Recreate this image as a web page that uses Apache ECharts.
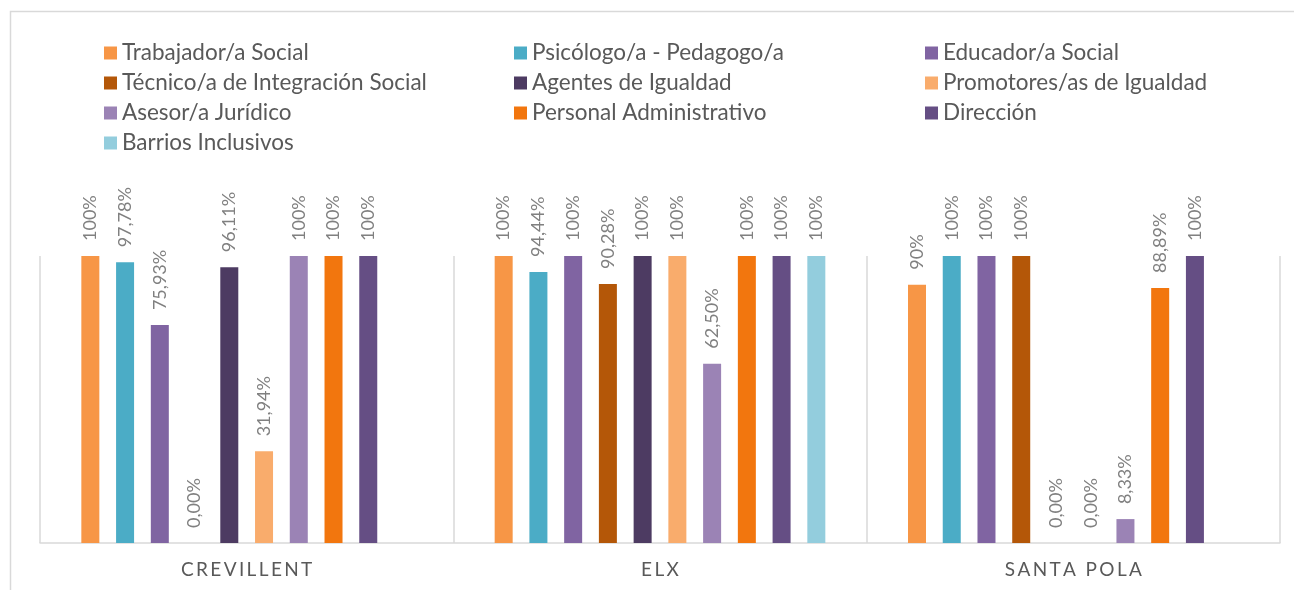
<!DOCTYPE html>
<html>
<head>
<meta charset="utf-8">
<script src="https://cdn.jsdelivr.net/npm/echarts@6/dist/echarts.min.js"></script>
<style>
  html, body { margin: 0; padding: 0; background: #fff; }
  #chart { width: 1294px; height: 590px; }
</style>
</head>
<body>
<div id="chart"></div>
<script>
const CATEGORIES = ['CREVILLENT', 'ELX', 'SANTA POLA']

const SERIES_NAMES = [
  'Trabajador/a Social',
  'Psicólogo/a - Pedagogo/a',
  'Educador/a Social',
  'Técnico/a de Integración Social',
  'Agentes de Igualdad',
  'Promotores/as de Igualdad',
  'Asesor/a Jurídico',
  'Personal Administrativo',
  'Dirección',
  'Barrios Inclusivos',
]

const COLORS = [
  '#F79646', '#4BACC6', '#8064A2', '#B45708', '#4D3B62',
  '#F9AC6C', '#9B83B5', '#F2760E', '#654E84', '#93CDDD',
]

// percentages per municipality (Crevillent, Elx, Santa Pola); null = no bar
const trabajador = [100, 100, 90]
const psicologo  = [97.78, 94.44, 100]
const educador   = [75.93, 100, 100]
const tecnico    = [0, 90.28, 100]
const agentes    = [96.11, 100, 0]
const promotores = [31.94, 100, 0]
const asesor     = [100, 62.5, 8.33]
const personal   = [100, 100, 88.89]
const direccion  = [100, 100, 100]
const barrios    = [null, 100, null]

const VALUES = [trabajador, psicologo, educador, tecnico, agentes,
  promotores, asesor, personal, direccion, barrios]

// legend columns as laid out in the original
const LEGEND_COLS = [
  [0, 3, 6, 9],
  [1, 4, 7],
  [2, 5, 8],
]
const LEGEND_LEFT = [104, 514, 925]

const FONT = 'Lato, "Open Sans", sans-serif'

function fmtPct(v) {
  if (v !== 0 && Number.isInteger(v)) return v + '%'
  return v.toFixed(2).replace('.', ',') + '%'
}

const chart = echarts.init(document.getElementById('chart'), null, { renderer: 'canvas' })

const option = {
  animation: false,
  backgroundColor: '#fff',
  color: COLORS,
  graphic: [{
    type: 'rect',
    shape: { x: 10.5, y: 11.5, width: 1400, height: 700 },
    style: { fill: 'none', stroke: '#d9d9d9', lineWidth: 1.5 },
    silent: true,
  }],
  legend: LEGEND_COLS.map((idx, i) => ({
    orient: 'vertical',
    left: LEGEND_LEFT[i],
    top: 38,
    padding: 0,
    itemGap: 0,
    itemWidth: 13,
    itemHeight: 13,
    icon: 'rect',
    selectedMode: false,
    data: idx.map(k => SERIES_NAMES[k]),
    textStyle: {
      color: '#595959',
      fontFamily: FONT,
      fontSize: 22.5,
      lineHeight: 30,
    },
  })),
  grid: {
    left: 40,
    right: 14,
    top: 256,
    bottom: 47,
  },
  xAxis: {
    type: 'category',
    data: CATEGORIES,
    axisTick: { show: false },
    axisLine: { lineStyle: { color: '#d9d9d9', width: 1.5 } },
    splitLine: { show: true, interval: 0, lineStyle: { color: '#d9d9d9', width: 1.5 } },
    axisLabel: {
      color: '#595959',
      fontFamily: FONT,
      fontSize: 19,
      margin: 17,
      formatter: v => v.split('').join('\u2009'),
    },
  },
  yAxis: {
    type: 'value',
    min: 0,
    max: 100,
    show: false,
    splitLine: { show: false },
  },
  series: SERIES_NAMES.map((name, i) => ({
    name,
    type: 'bar',
    data: VALUES[i],
    barWidth: 18,
    barGap: '93%',
    itemStyle: { color: COLORS[i] },
    label: {
      show: true,
      position: 'top',
      rotate: 90,
      align: 'left',
      verticalAlign: 'middle',
      distance: 15,
      color: '#808080',
      fontFamily: FONT,
      fontSize: 18,
      formatter: p => fmtPct(p.value),
    },
  })),
}

chart.setOption(option)
</script>
</body>
</html>
